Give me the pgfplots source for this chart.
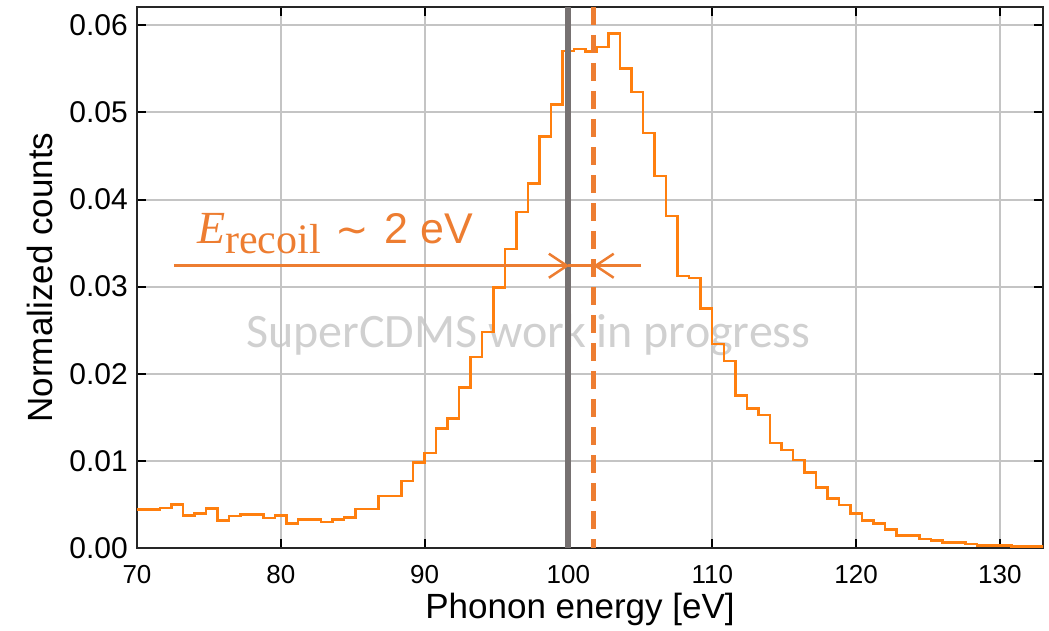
\documentclass[border=0pt]{standalone}
\usepackage{pgfplots}
\pgfplotsset{compat=1.18}
\usepackage{fontspec}
\setmainfont{Liberation Sans}
\newfontfamily\carlito{Carlito}
\newfontfamily\lserif{Liberation Serif}
\newfontfamily\dejavu{DejaVu Sans}
\usetikzlibrary{arrows.meta}
\definecolor{historange}{HTML}{FF7F0E}
\definecolor{annorange}{HTML}{ED7D31}
\definecolor{vgrey}{HTML}{767171}
\definecolor{gridgrey}{HTML}{C4C4C4}
\definecolor{wmgrey}{HTML}{D0D0D0}
\begin{document}
\begin{tikzpicture}
\path (0,0) rectangle (1049pt,630pt);
\begin{axis}[
  set layers=standard,
  at={(137pt,82pt)}, anchor=south west,
  scale only axis, width=906pt, height=541pt,
  xmin=70, xmax=133, ymin=0, ymax=0.0621,
  xtick={70,80,90,100,110,120,130},
  ytick={0,0.01,0.02,0.03,0.04,0.05,0.06},
  scaled y ticks=false,
  /pgf/number format/assume math mode=true,
  y tick label style={/pgf/number format/fixed, /pgf/number format/fixed zerofill, /pgf/number format/precision=2, font=\fontsize{30}{34}\selectfont, anchor=east, inner sep=0pt, xshift=-9pt},
  x tick label style={font=\fontsize{26}{30}\selectfont, anchor=north, inner sep=0pt, yshift=-17pt},
  tick align=inside,
  major tick length=9pt,
  major tick style={line width=2pt, black},
  axis line style={line width=2pt, black!85},
  grid=major,
  major grid style={line width=2pt, gridgrey},
  xlabel={Phonon energy [eV]},
  ylabel={Normalized counts},
  label style={font=\fontsize{35}{40}\selectfont},
  xlabel style={at={(axis description cs:0.489,0)}, anchor=base, yshift=-70pt},
  ylabel style={at={(axis description cs:-0.0938,0.5)}, anchor=base},
]
\begin{pgfonlayer}{axis background}
\node[anchor=base west, inner sep=0pt, text=wmgrey, font=\carlito\fontsize{48}{56}\selectfont] at (axis cs:77.57,0.02306) {SuperCDMS work in progress};
\end{pgfonlayer}
\addplot[const plot mark left, historange, line width=2.5pt] coordinates {
(70.0,0.00444) (70.8,0.00444) (71.6,0.00462) (72.4,0.00497) (73.2,0.00371)
(74.0,0.00398) (74.8,0.00455) (75.6,0.00313) (76.4,0.00367) (77.2,0.00382)
(78.0,0.00382) (78.8,0.00344) (79.6,0.00371) (80.4,0.00283) (81.2,0.00329)
(82.0,0.00329) (82.8,0.00298) (83.6,0.00329) (84.4,0.00348) (85.2,0.00447)
(86.0,0.00447) (86.8,0.00597) (87.6,0.00597) (88.4,0.00769) (89.2,0.00979)
(90.0,0.01090) (90.8,0.01373) (91.6,0.01488) (92.4,0.01844) (93.2,0.02195)
(94.0,0.02481) (94.8,0.02991) (95.6,0.03430) (96.4,0.03858) (97.2,0.04184)
(98.0,0.04726) (98.8,0.05093) (99.6,0.05705) (100.4,0.05728) (101.2,0.05701)
(102.0,0.05751) (102.8,0.05905) (103.6,0.05503) (104.4,0.05235) (105.2,0.04764)
(106.0,0.04268) (106.8,0.03809) (107.6,0.03120) (108.4,0.03100) (109.2,0.02750)
(110.0,0.02340) (110.8,0.02145) (111.6,0.01751) (112.4,0.01602) (113.2,0.01526)
(114.0,0.01208) (114.8,0.01124) (115.6,0.01010) (116.4,0.00864) (117.2,0.00696)
(118.0,0.00570) (118.8,0.00493) (119.6,0.00398) (120.4,0.00313) (121.2,0.00283)
(122.0,0.00214) (122.8,0.00141) (123.6,0.00141) (124.4,0.00103) (125.2,0.00084)
(126.0,0.00061) (126.8,0.00061) (127.6,0.00046) (128.4,0.00031) (129.2,0.00031)
(130.0,0.00031) (130.8,0.00015) (131.6,0.00015) (132.4,0.00015) (133.2,0.00015)
};
\draw[vgrey, line width=6pt] (axis cs:100,0) -- (axis cs:100,0.0621);
\draw[annorange, line width=5pt, dash pattern=on 18pt off 10pt] (axis cs:101.74,0.0621) -- (axis cs:101.74,0);
\draw[annorange, line width=2.5pt] (axis cs:100,0.0324) -- (axis cs:101.74,0.0324);
\draw[annorange, line width=2.5pt, -{Straight Barb[length=18pt,width=24pt]}] (axis cs:72.57,0.0324) -- (axis cs:100.05,0.0324);
\draw[annorange, line width=2.5pt, -{Straight Barb[length=18pt,width=24pt]}] (axis cs:105.05,0.0324) -- (axis cs:101.74,0.0324);
\node[anchor=base west, inner sep=0pt, text=annorange] at (axis cs:74.17,0.03499)
 {{\lserif\itshape\fontsize{46}{50}\selectfont E}\raisebox{-10pt}{\lserif\fontsize{42}{46}\selectfont recoil}\hspace{15pt}{\dejavu\fontsize{40}{44}\selectfont ∼}\hspace{15pt}{\fontsize{43}{50}\selectfont 2 eV}};
\end{axis}
\end{tikzpicture}
\end{document}
